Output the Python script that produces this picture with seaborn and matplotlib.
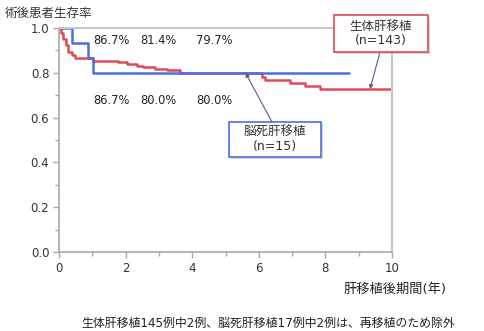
import matplotlib
matplotlib.use("Agg")
import matplotlib.pyplot as plt
import matplotlib.patches as mpatches
import numpy as np
import pandas as pd
import seaborn as sns

sns.set_theme(style="white")
plt.rcParams["font.family"] = ["DejaVu Sans", "Noto Sans CJK JP"]

# Kaplan-Meier step data (years after transplant, survival probability)
living_years = [0, 0.05, 0.12, 0.2, 0.28, 0.38, 0.48, 1.02, 1.78, 2.03, 2.33,
                2.53, 2.88, 3.23, 3.63, 6.1, 6.2, 6.93, 7.39, 7.84, 10.0]
living_surv = [1.0, 0.979, 0.951, 0.923, 0.895, 0.881, 0.867, 0.853, 0.846,
               0.839, 0.832, 0.825, 0.818, 0.811, 0.797, 0.783, 0.769, 0.755,
               0.741, 0.727, 0.727]
deceased_years = [0, 0.38, 0.87, 1.03, 8.7]
deceased_surv = [1.0, 0.933, 0.867, 0.8, 0.8]

# survival rates printed at 1, 3 and 5 years
living_rates = ["86.7%", "81.4%", "79.7%"]
deceased_rates = ["86.7%", "80.0%", "80.0%"]
rate_x = [1.02, 2.45, 4.12]

living_label = "生体肝移植\n(n=143)"
deceased_label = "脳死肝移植\n(n=15)"
y_title = "術後患者生存率"
x_title = "肝移植後期間(年)"
footnote = "生体肝移植145例中2例、脳死肝移植17例中2例は、再移植のため除外"

RED = "#e04b58"
BLUE = "#4a6fe3"

W, H = 484, 331
fig = plt.figure(figsize=(W / 100, H / 100), dpi=100)
ax = fig.add_axes([59 / W, 1 - 252 / H, (392 - 59) / W, (252 - 28) / H])

living = pd.DataFrame({"years": living_years, "surv": living_surv})
deceased = pd.DataFrame({"years": deceased_years, "surv": deceased_surv})

sns.lineplot(data=living, x="years", y="surv", ax=ax, color=RED, lw=1.8,
             drawstyle="steps-post", estimator=None, sort=False)
sns.lineplot(data=deceased, x="years", y="surv", ax=ax, color=BLUE, lw=1.8,
             drawstyle="steps-post", estimator=None, sort=False)

ax.set_xlim(0, 10)
ax.set_ylim(0, 1.0)
ax.set_xticks(np.arange(0, 11, 2))
ax.set_xticks(np.arange(1, 10, 2), minor=True)
ax.set_yticks(np.arange(0, 1.01, 0.2))
ax.set_yticks(np.arange(0.1, 1.0, 0.2), minor=True)
ax.set_xticklabels([str(v) for v in range(0, 11, 2)])
ax.set_yticklabels([f"{v:.1f}" for v in np.arange(0, 1.01, 0.2)])
ax.set_xlabel("")
ax.set_ylabel("")

for side in ["top", "right"]:
    ax.spines[side].set_color("#c8c8c8")
    ax.spines[side].set_linewidth(1.5)
for side in ["left", "bottom"]:
    ax.spines[side].set_color("#a8a8a8")
    ax.spines[side].set_linewidth(1.2)

ax.tick_params(axis="both", which="major", direction="out", length=4,
               width=1, color="#a8a8a8", labelsize=8.5, labelcolor="#333333",
               pad=3, bottom=True, left=True)
ax.tick_params(axis="both", which="minor", direction="out", length=3,
               width=1, color="#a8a8a8", bottom=True, left=True)

for x, t in zip(rate_x, living_rates):
    ax.text(x, 0.942, t, fontsize=8.3, color="#222222", ha="left", va="center")
for x, t in zip(rate_x, deceased_rates):
    ax.text(x, 0.676, t, fontsize=8.3, color="#222222", ha="left", va="center")


def fig_xy(px, py):
    return px / W, 1 - py / H


def label_box(x0, y0, x1, y1, edge, text):
    sx, sy = fig_xy(x0 + 2, y1 + 2)
    fig.patches.append(mpatches.Rectangle(
        (sx, sy), (x1 - x0) / W, (y1 - y0) / H, transform=fig.transFigure,
        facecolor="#bbbbbb", edgecolor="none", alpha=0.6, zorder=5))
    bx, by = fig_xy(x0, y1)
    fig.patches.append(mpatches.Rectangle(
        (bx, by), (x1 - x0) / W, (y1 - y0) / H, transform=fig.transFigure,
        facecolor="white", edgecolor=edge, linewidth=1.2, zorder=6))
    cx, cy = fig_xy((x0 + x1) / 2, (y0 + y1) / 2)
    fig.text(cx, cy, text, fontsize=9, color="#333333", ha="center",
             va="center", linespacing=1.1, zorder=7)


label_box(334, 15, 428, 52, RED, living_label)
label_box(229, 122, 321, 157, BLUE, deceased_label)

arrow = dict(arrowstyle="-|>", color="#5a5a8c", lw=0.8, mutation_scale=6,
             shrinkA=0, shrinkB=0)
ax.annotate("", xy=(9.34, living_surv[-1]), xycoords="data",
            xytext=fig_xy(380, 52), textcoords="figure fraction",
            arrowprops=arrow, annotation_clip=False)
ax.annotate("", xy=(5.6, 0.8), xycoords="data",
            xytext=fig_xy(272, 122), textcoords="figure fraction",
            arrowprops=arrow, annotation_clip=False)

tx, ty = fig_xy(5, 14)
fig.text(tx, ty, y_title, fontsize=9, color="#333333", ha="left", va="center")
tx, ty = fig_xy(447, 289)
fig.text(tx, ty, x_title, fontsize=9.5, color="#222222", ha="right",
         va="center")
tx, ty = fig_xy(268, 323)
fig.text(tx, ty, footnote, fontsize=8.6, color="#222222", ha="center",
         va="center")

fig.savefig("out.png", dpi=100)
